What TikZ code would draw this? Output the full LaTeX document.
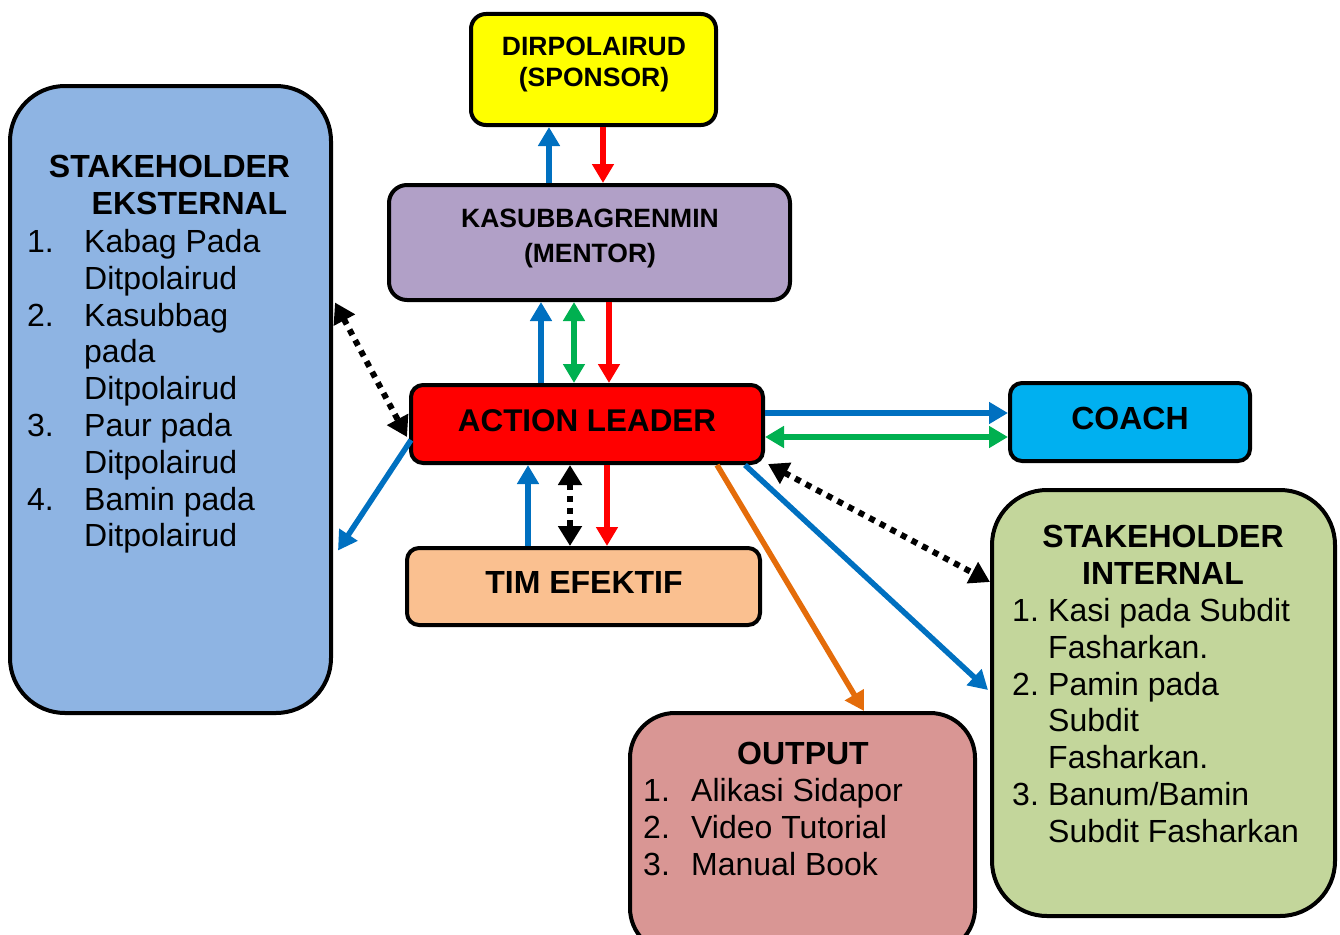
\documentclass[tikz,border=0pt]{standalone}
\usepackage{fontspec}
\setmainfont{Liberation Sans}
\usetikzlibrary{arrows.meta,calc}
\definecolor{cyel}{HTML}{FFFF00}
\definecolor{cpur}{HTML}{B1A0C7}
\definecolor{cred}{HTML}{FF0000}
\definecolor{ccoach}{HTML}{00B0F0}
\definecolor{ctim}{HTML}{FAC090}
\definecolor{cext}{HTML}{8EB4E3}
\definecolor{cint}{HTML}{C3D69B}
\definecolor{cout}{HTML}{D99694}
\definecolor{ablue}{HTML}{0070C0}
\definecolor{agreen}{HTML}{00B050}
\definecolor{aorange}{HTML}{E46C0A}
\begin{document}
\begin{tikzpicture}[x=1pt,y=-1pt,
  box/.style={draw=black, line width=4pt, inner sep=0pt},
  arr/.style={line width=5.5pt, -{Triangle[length=19pt,width=21pt]}},
  darr/.style={line width=5.5pt, {Triangle[length=19pt,width=21pt]}-{Triangle[length=19pt,width=21pt]}},
  dotarr/.style={black, line width=6pt, dash pattern=on 6pt off 6pt, {Triangle[length=20pt,width=23pt]}-{Triangle[length=20pt,width=23pt]}},
  bigtxt/.style={font=\fontsize{32}{36.8}\selectfont, inner sep=0pt},
  bigbold/.style={font=\fontsize{32}{36.8}\selectfont\bfseries, inner sep=0pt},
  midbold/.style={font=\fontsize{26.5}{35}\selectfont\bfseries, inner sep=0pt},
]
\useasboundingbox (0,0) rectangle (1340,934);

% boxes
\node[box, fill=cyel, rounded corners=15pt, minimum width=245pt, minimum height=111pt] (dir) at (593.5,69.5) {};
\node[box, fill=cpur, rounded corners=18pt, minimum width=401pt, minimum height=115pt] (kas) at (589.5,242.5) {};
\node[box, fill=cred, rounded corners=12pt, minimum width=352pt, minimum height=78pt] (al) at (587,424) {};
\node[box, fill=ccoach, rounded corners=12pt, minimum width=240pt, minimum height=78pt] (coach) at (1130,422) {};
\node[box, fill=ctim, rounded corners=12pt, minimum width=353pt, minimum height=77pt] (tim) at (583.5,586.5) {};
\node[box, fill=cext, rounded corners=55pt, minimum width=321pt, minimum height=627pt] (ext) at (170.5,399.5) {};
\node[box, fill=cint, rounded corners=55pt, minimum width=343pt, minimum height=426pt] (int) at (1163.5,703) {};
\node[box, fill=cout, rounded corners=45pt, minimum width=345pt, minimum height=240pt] (out) at (802.5,833) {};

% texts
\node[midbold, anchor=base] (dirtxt) at (594,55.5) {\begin{tabular}[t]{@{}c@{}}DIRPOLAIRUD\\[-4pt](SPONSOR)\end{tabular}};
\node[midbold, anchor=base] (kastxt) at (590,227.5) {\begin{tabular}[t]{@{}c@{}}KASUBBAGRENMIN\\(MENTOR)\end{tabular}};
\node[bigbold, anchor=base, font=\fontsize{31.4}{36}\selectfont\bfseries] (altxt) at (587,431) {ACTION LEADER};
\node[bigbold, anchor=base] (coachtxt) at (1130,429.5) {COACH};
\node[bigbold, anchor=base] (timtxt) at (584,593.5) {TIM EFEKTIF};

\node[bigbold, anchor=base] (extt1) at (169.5,177.5) {STAKEHOLDER};
\node[bigbold, anchor=base] (extt2) at (189.5,214.5) {EKSTERNAL};
\node[bigtxt, anchor=base west] (extlist) at (27,252.5) {\begin{tabular}[t]{@{}p{57pt}@{}l@{}}
1.& Kabag Pada\\ & Ditpolairud\\
2.& Kasubbag\\ & pada\\ & Ditpolairud\\
3.& Paur pada\\ & Ditpolairud\\
4.& Bamin pada\\ & Ditpolairud\end{tabular}};

\node[bigbold, anchor=base] (intt1) at (1163,547.5) {STAKEHOLDER};
\node[bigbold, anchor=base] (intt2) at (1163,584.5) {INTERNAL};
\node[bigtxt, anchor=base west] (intlist) at (1012,621.5) {\begin{tabular}[t]{@{}p{36pt}@{}l@{}}
1.& Kasi pada Subdit\\ & Fasharkan.\\
2.& Pamin pada\\ & Subdit\\ & Fasharkan.\\
3.& Banum/Bamin\\ & Subdit Fasharkan\end{tabular}};

\node[bigbold, anchor=base] (outt) at (803,764.5) {OUTPUT};
\node[bigtxt, anchor=base west] (outlist) at (643,801.5) {\begin{tabular}[t]{@{}p{48pt}@{}l@{}}
1.& Alikasi Sidapor\\
2.& Video Tutorial\\
3.& Manual Book\end{tabular}};

% arrows dir <-> kas
\draw[arr, ablue] ($(kas.north)+(-40.5,0)$) -- ($(dir.south)+(-44.5,0)$);
\draw[arr, cred] ($(dir.south)+(9.5,0)$) -- ($(kas.north)+(13.5,0)$);
% kas <-> al
\draw[arr, ablue] ($(al.north)+(-46,0)$) -- ($(kas.south)+(-48.5,0)$);
\draw[darr, agreen] ($(al.north)+(-13,0)$) -- ($(kas.south)+(-15.5,0)$);
\draw[arr, cred] ($(kas.south)+(19.5,0)$) -- ($(al.north)+(22,0)$);
% al <-> tim
\draw[arr, ablue] ($(tim.north)+(-55.5,0)$) -- ($(al.south)+(-59,0)$);
\draw[dotarr] ($(al.south)+(-17,0)$) -- ($(tim.north)+(-13.5,0)$);
\draw[arr, cred] ($(al.south)+(20,0)$) -- ($(tim.north)+(23.5,0)$);
% al <-> coach
\draw[arr, ablue] ($(al.east)+(0,-11)$) -- ($(coach.west)+(0,-9)$);
\draw[darr, agreen] ($(al.east)+(0,13)$) -- ($(coach.west)+(0,15)$);
% al <-> ext
\draw[dotarr] ($(ext.east)+(2,-97)$) -- ($(al.west)+(-2,13)$);
\draw[arr, ablue] ($(al.west)+(2,16)$) -- ($(ext.east)+(5,151)$);
% al <-> int
\draw[dotarr] ($(al.south east)+(3,-1)$) -- ($(int.west)+(0,-121)$);
\draw[arr, ablue] ($(al.south east)+(-20,0)$) -- ($(int.west)+(-2,-13)$);
% al -> out
\draw[arr, aorange] ($(al.south east)+(-48,0)$) -- ($(out.north)+(61.5,0)$);
\end{tikzpicture}
\end{document}
